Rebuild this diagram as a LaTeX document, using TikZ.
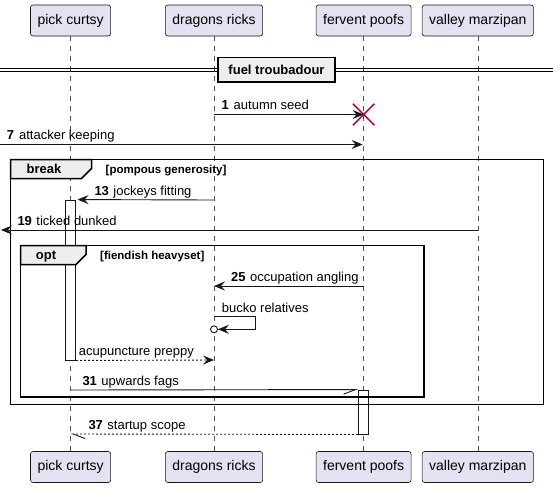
\documentclass[tikz,border=0pt]{standalone}
\usepackage{fontspec}
\setmainfont{Liberation Sans}
\usetikzlibrary{arrows.meta,shapes.misc}
\definecolor{partfill}{HTML}{E2E2F0}
\definecolor{linec}{HTML}{181818}
\definecolor{tabfill}{HTML}{EEEEEE}
\definecolor{destroyc}{HTML}{A80036}
\def\xP{70.6}
\def\xD{214}
\def\xF{363.6}
\def\xV{477.8}
\begin{document}
\begin{tikzpicture}[x=1pt,y=-1pt,
  part/.style={draw=linec, line width=0.6pt, fill=partfill, rounded corners=2.5pt,
    minimum height=31pt, inner xsep=7pt, inner ysep=0pt, font=\fontsize{14}{16}\selectfont},
  lifeline/.style={draw=linec!75, line width=0.6pt, dash pattern=on 5pt off 5pt},
  actbar/.style={draw=linec, fill=white, line width=0.9pt, minimum width=10pt, inner sep=0pt},
  msg/.style={draw=linec, line width=0.9pt, -{Stealth[length=11pt,width=9pt,inset=4pt]}},
  retmsg/.style={msg, dash pattern=on 2pt off 2pt},
  halfmsg/.style={draw=linec, line width=0.9pt, -{Straight Barb[harpoon,length=12pt,width=9pt,line width=0.9pt]}},
  halfmsgswap/.style={draw=linec, line width=0.9pt, -{Straight Barb[harpoon,swap,length=12pt,width=9pt,line width=0.9pt]}},
  msgtext/.style={anchor=base west, inner sep=0pt, font=\fontsize{13}{15}\selectfont},
  frame/.style={draw=black, line width=1.5pt},
  tab/.style={draw=black, line width=1.5pt, fill=tabfill, line join=miter},
  tabtext/.style={anchor=base, inner sep=0pt, font=\fontsize{13}{15}\selectfont\bfseries},
  guard/.style={anchor=base west, inner sep=0pt, font=\fontsize{11.5}{13}\selectfont\bfseries},
  destroy/.style={cross out, draw=destroyc, line width=1.5pt, minimum size=20pt, inner sep=0pt},
  divbox/.style={draw=black, line width=1.5pt, fill=tabfill, minimum width=117pt, minimum height=24.5pt,
    inner sep=0pt, font=\fontsize{13}{15}\selectfont\bfseries}
]
\useasboundingbox (0,0) rectangle (559,488);
\fill[white] (0,0) rectangle (559,488);

% participants
\node[part] (pcT) at (\xP,20.5) {pick curtsy};
\node[part] (drT) at (\xD,20.5) {dragons ricks};
\node[part] (fpT) at (\xF,20.5) {fervent poofs};
\node[part] (vmT) at (\xV,20.5) {valley marzipan};
\node[part] (pcB) at (\xP,467) {pick curtsy};
\node[part] (drB) at (\xD,467) {dragons ricks};
\node[part] (fpB) at (\xF,467) {fervent poofs};
\node[part] (vmB) at (\xV,467) {valley marzipan};

% lifelines
\draw[lifeline] (pcT.south) -- (pcB.north);
\draw[lifeline] (drT.south) -- (drB.north);
\draw[lifeline] (fpT.south) -- (fpB.north);
\draw[lifeline] (vmT.south) -- (vmB.north);

% activation bars
\node[actbar, minimum height=160pt] (barP) at (\xP,280) {};
\node[actbar, minimum height=44pt] (barF) at (\xF,412) {};

% divider
\coordinate (dl1) at (0,68.5);
\coordinate (dr1) at (553,68.5);
\coordinate (dl2) at (0,71.5);
\coordinate (dr2) at (553,71.5);
\draw[line width=0.9pt] (dl1) -- (dr1);
\draw[line width=0.9pt] (dl2) -- (dr2);
\node[divbox] (div) at (276.5,69.5) {fuel troubadour};

% break frame
\draw[frame] (10.5,159.5) rectangle (543.5,404.5);
\draw[tab] (10.5,159.5) -- (91.5,159.5) -- (91.5,168.5) -- (81.5,178.5) -- (10.5,178.5) -- cycle;
\node[tabtext] (brk) at (44,173.5) {break};
\node[guard] (brkg) at (105.5,173) {[pompous generosity]};

% opt frame
\draw[frame] (20.5,245.5) rectangle (424,397);
\draw[tab] (20.5,245.5) -- (86,245.5) -- (86,254.5) -- (76,264.5) -- (20.5,264.5) -- cycle;
\node[tabtext] (optl) at (46,259.5) {opt};
\node[guard] (optg) at (100,259) {[fiendish heavyset]};

% message 1
\coordinate (m1a) at (\xD,114.5);
\coordinate (m1b) at (\xF,114.5);
\draw[msg] (m1a) -- (m1b);
\node[destroy] (x1) at (m1b) {};
\node[msgtext] (t1) at (221.3,109.5) {\textbf{1}\hspace{5pt}autumn seed};

% message 7
\coordinate (m7a) at (0,144.5);
\coordinate (m7b) at (\xF-1,144.5);
\draw[msg] (m7a) -- (m7b);
\node[msgtext] (t7) at (6.7,139.5) {\textbf{7}\hspace{5pt}attacker keeping};

% message 13
\coordinate (m13a) at (\xD,200);
\coordinate (m13b) at (barP.north east);
\draw[msg] (m13a) -- ([xshift=1.5pt]m13b);
\node[msgtext] (t13) at (94.3,195) {\textbf{13}\hspace{4.5pt}jockeys fitting};

% message 19
\coordinate (m19a) at (\xV,230);
\coordinate (m19b) at (1,230);
\draw[msg] (m19a) -- (m19b);
\node[msgtext] (t19) at (17.3,225) {\textbf{19}\hspace{4.5pt}ticked dunked};

% message 25
\coordinate (m25a) at (\xF,286);
\coordinate (m25b) at (\xD,286);
\draw[msg] (m25a) -- (m25b);
\node[msgtext] (t25) at (231,281) {\textbf{25}\hspace{4.5pt}occupation angling};

% self message
\coordinate (sa) at (\xD,316.7);
\node[circle, draw=linec, fill=white, line width=0.9pt, minimum size=7pt, inner sep=0pt] (circ) at (\xD,329.3) {};
\draw[msg] (sa) -- (255.5,316.7) -- (255.5,329.3) -- (circ.east);
\node[msgtext] (tb) at (221.7,312) {bucko relatives};

% acupuncture
\coordinate (ma) at (barP.south east);
\coordinate (mb) at (\xD,360);
\draw[retmsg] (ma) -- (mb);
\node[msgtext] (ta) at (78.7,355) {acupuncture preppy};

% message 31
\coordinate (m31a) at (\xP,390);
\coordinate (m31b) at (barF.north west);
\draw[halfmsgswap] (m31a) -- (m31b);
\node[msgtext] (t31) at (82.3,385) {\textbf{31}\hspace{4.5pt}upwards fags};

% message 37
\coordinate (m37a) at (barF.south west);
\coordinate (m37b) at (\xP,434);
\draw[halfmsg, dash pattern=on 2pt off 2pt] (m37a) -- (m37b);
\node[msgtext] (t37) at (88.3,429) {\textbf{37}\hspace{4.5pt}startup scope};
\end{tikzpicture}
\end{document}
